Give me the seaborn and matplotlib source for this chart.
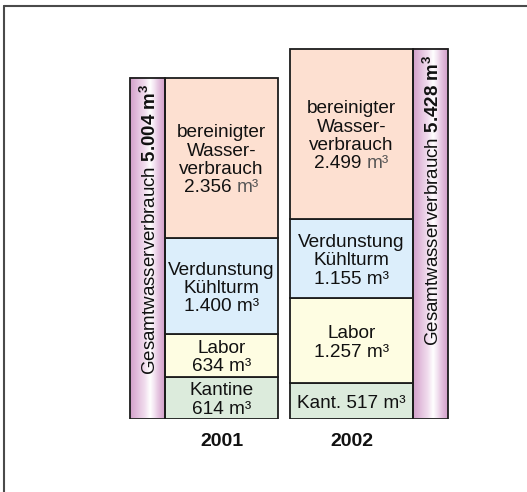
import numpy as np
import pandas as pd
import matplotlib
matplotlib.use("Agg")
import matplotlib.pyplot as plt
import seaborn as sns
from matplotlib.colors import LinearSegmentedColormap
from matplotlib.lines import Line2D

# ---------------- data ----------------
years = ["2001", "2002"]
categories = ["Kantine", "Labor", "Verdunstung Kühlturm", "bereinigter Wasserverbrauch"]
values_2001 = [614, 634, 1400, 2356]
values_2002 = [517, 1257, 1155, 2499]
labels_2001 = ["Kantine", "Labor", "Verdunstung\nKühlturm", "bereinigter\nWasser-\nverbrauch"]
labels_2002 = ["Kant.", "Labor", "Verdunstung\nKühlturm", "bereinigter\nWasser-\nverbrauch"]
inline_number_2001 = [False, False, False, False]
inline_number_2002 = [True, False, False, False]
total_label = "Gesamtwasserverbrauch"
unit = "m³"

# ---------------- style ----------------
sns.set_style("white")
plt.rcParams["font.family"] = ["Liberation Sans", "DejaVu Sans"]
plt.rcParams["mathtext.fontset"] = "custom"
plt.rcParams["mathtext.rm"] = "Liberation Sans"
plt.rcParams["mathtext.bf"] = "Liberation Sans:bold"
plt.rcParams["mathtext.it"] = "Liberation Sans:italic"

seg_colors = ["#dcebdc", "#fefde2", "#dceefb", "#fde0d1"]
unit_gray = [None, None, None, "#555555"]
edge = "#1c1c1c"
FS = 13.7

W, H = 527, 492
S = 0.0681          # px per m³
BASE = 418.5        # px from top of bar bottom
fig = plt.figure(figsize=(W / 100, H / 100), dpi=100)
ax = fig.add_axes([0, 1 - BASE / H, 1, BASE / H])
ax.set_xlim(0, W)
ax.set_ylim(0, BASE / S)
ax.axis("off")

bar_left = [165, 290]
bar_width = [113, 123]
pillar_left = [130, 413]
pillar_width = 35

pill_cmap = LinearSegmentedColormap.from_list(
    "pill",
    [(0.0, "#d3a0ca"), (0.2, "#e2bddc"), (0.42, "#f1ddee"), (0.58, "#ffffff"),
     (0.7, "#f3e3f1"), (0.85, "#e1bcdb"), (1.0, "#d3a0ca")])
grad = np.linspace(0, 1, 64).reshape(1, -1)

def fmt(v):
    return f"{v:,}".replace(",", ".")

fig.canvas.draw()
renderer = fig.canvas.get_renderer()

def text_width_px(s, **kw):
    t = ax.text(0, 0, s, fontsize=FS, **kw)
    w = t.get_window_extent(renderer).width
    t.remove()
    return w

L = 18.3  # line step in px

all_values = [values_2001, values_2002]
all_labels = [labels_2001, labels_2002]
all_inline = [inline_number_2001, inline_number_2002]

for j, yr in enumerate(years):
    vals = all_values[j]
    bottoms = np.concatenate([[0], np.cumsum(vals)[:-1]])
    total = int(np.sum(vals))
    # stacked segments
    ax.bar(bar_left[j], vals, width=bar_width[j], bottom=bottoms, align="edge",
           color=seg_colors, edgecolor=edge, linewidth=1.3, zorder=2)
    xc = bar_left[j] + bar_width[j] / 2
    for i, v in enumerate(vals):
        yc = bottoms[i] + v / 2
        num = fmt(v)
        if all_inline[j][i]:
            lines = [all_labels[j][i] + " " + num]
        else:
            lines = all_labels[j][i].split("\n") + [num]
        n = len(lines)
        for k, line in enumerate(lines):
            yb = yc - 7 / S + ((n - 1) / 2 - k) * L / S
            if k == n - 1 and unit_gray[i] is not None:
                wt = text_width_px(line + " " + unit)
                ax.text(xc - wt / 2, yb, line, ha="left", va="baseline",
                        fontsize=FS, color="#111111", zorder=4)
                ax.text(xc + wt / 2, yb, unit, ha="right", va="baseline",
                        fontsize=FS, color=unit_gray[i], zorder=4)
            else:
                txt = line + " " + unit if k == n - 1 else line
                ax.text(xc, yb, txt, ha="center", va="baseline",
                        fontsize=FS, color="#111111", zorder=4)
    # total pillar
    pl = pillar_left[j]
    ax.imshow(grad, cmap=pill_cmap, aspect="auto",
              extent=[pl, pl + pillar_width, 0, total], zorder=1)
    ax.bar(pl, total, width=pillar_width, align="edge", color="none",
           edgecolor=edge, linewidth=1.3, zorder=3)
    ax.text(pl + pillar_width / 2 + 2.5, total - 6 / S,
            total_label + r" $\mathbf{" + fmt(total) + r"\ m^3}$",
            rotation=90, ha="center", va="top", fontsize=13.5, color="#111111", zorder=4)
    # year label
    ax.text(xc, -22.5 / S, yr, ha="center", va="center", fontsize=14,
            fontweight="bold", color="#111111", clip_on=False)

ax.set_ylim(0, BASE / S)
ax.set_xlim(0, W)

# frame
fig.add_artist(Line2D([4 / W, 4 / W], [0, 1 - 6 / H], transform=fig.transFigure,
                      color="#4a4a4a", lw=1.5))
fig.add_artist(Line2D([4 / W, 1], [1 - 6 / H, 1 - 6 / H], transform=fig.transFigure,
                      color="#4a4a4a", lw=1.5))

fig.savefig("out.png", dpi=100)
